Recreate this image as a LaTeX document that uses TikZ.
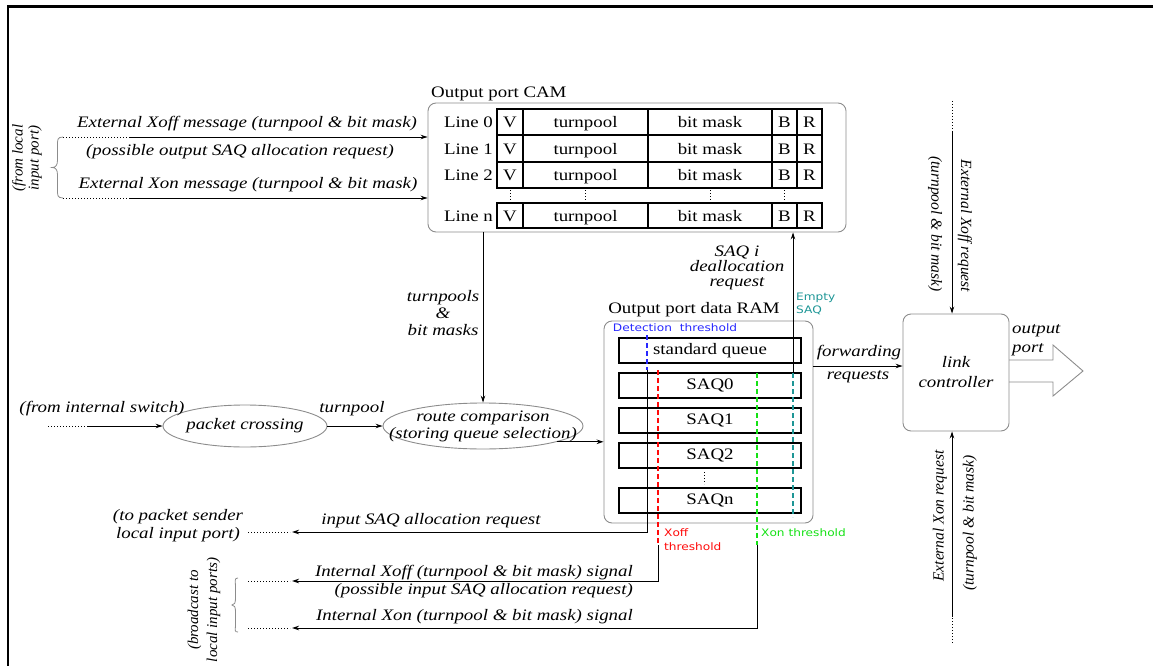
\documentclass[tikz,border=0pt]{standalone}
\usepackage{fontspec}
\setmainfont{Liberation Serif}[FakeStretch=1.18]
\newfontfamily\rotfont{Liberation Serif}
\newfontfamily\lblsans{DejaVu Sans}[FakeStretch=1.18]
\usetikzlibrary{arrows.meta,shapes.geometric}
\definecolor{boxgray}{RGB}{140,140,140}
\definecolor{detblue}{RGB}{40,40,255}
\definecolor{xoffred}{RGB}{255,10,10}
\definecolor{xongreen}{RGB}{20,225,20}
\definecolor{emptyteal}{RGB}{30,150,150}
\begin{document}
\begin{tikzpicture}[x=1pt,y=-1pt,
  arr/.style={-{Stealth[length=7pt,width=4.5pt]}, line width=0.9pt},
  dots/.style={line width=0.9pt, dash pattern=on 1.2pt off 1.8pt},
  graybox/.style={draw=boxgray, line width=0.9pt, rounded corners=8pt, inner sep=0pt},
  cell/.style={font=\fontsize{16}{18}\selectfont, inner sep=0pt},
  lbl/.style={font=\fontsize{16}{18}\selectfont\itshape, inner sep=0pt, align=center},
  rlbl/.style={font=\fontsize{15.5}{18}\selectfont\rotfont\itshape, inner sep=0pt, align=center},
  slbl/.style={font=\fontsize{10.3}{12.5}\selectfont\lblsans, inner sep=0pt, align=left},
  queue/.style={draw, line width=1.2pt, minimum width=182pt, minimum height=25pt, inner sep=0pt, font=\fontsize{16}{18}\selectfont},
  oval/.style={ellipse, draw=boxgray, line width=0.9pt, inner sep=0pt},
  thr/.style={line width=1.2pt, dash pattern=on 5pt off 3pt},
  tbl/.style={line width=1.1pt},
]
\useasboundingbox (0,0) rectangle (1153,666);
% frame
\draw[line width=2.3pt] (8,680) -- (8,6.5) -- (1165,6.5);

% ---------- CAM ----------
\node[graybox, draw, minimum width=418pt, minimum height=129pt] (cam) at (637,167.5) {};
\node[cell, anchor=base west] (camtitle) at (431,98) {Output port CAM};
\draw[tbl] (497,109) rectangle (822,188);
\draw[tbl] (497,135) -- (822,135) (497,162) -- (822,162);
\draw[tbl] (497,203) rectangle (822,228);
\foreach \xx in {523,648,772,797} \draw[tbl] (\xx,109) -- (\xx,188) (\xx,203) -- (\xx,228);
\foreach \rw/\yy in {0/122, 1/148.5, 2/175, n/215.5} {
  \node[cell, anchor=base east] (line\rw) at (493,\yy+5.5) {Line \rw};
  \node[cell, anchor=base] (v\rw) at (510,\yy+5.5) {V};
  \node[cell, anchor=base] (tp\rw) at (585.5,\yy+5.5) {turnpool};
  \node[cell, anchor=base] (bm\rw) at (710,\yy+5.5) {bit mask};
  \node[cell, anchor=base] (b\rw) at (784.5,\yy+5.5) {B};
  \node[cell, anchor=base] (rr\rw) at (809.5,\yy+5.5) {R};
}
\foreach \xx in {510,585.5,710,784.5} \draw[dots] (\xx,190) -- (\xx,201);

% ---------- left inputs to CAM ----------
\coordinate (xoffs) at (63,137); \coordinate (xoffm) at (130,137);
\coordinate (xons) at (63,198); \coordinate (xonm) at (130,198);
\draw[dots] (xoffs) -- (xoffm);
\draw[arr] (xoffm) -- (xoffm -| cam.west);
\draw[dots] (xons) -- (xonm);
\draw[arr] (xonm) -- (xonm -| cam.west);
\node[lbl] (extxoff) at (247,124) {External Xoff message (turnpool \& bit mask)};
\node[lbl] (possout) at (240,152) {(possible output SAQ allocation request)};
\node[lbl] (extxon) at (248,185) {External Xon message (turnpool \& bit mask)};
\draw[boxgray, line width=0.8pt] (xoffs) .. controls (57,137) and (57.5,140) .. (57.5,146) -- (57.5,160)
  .. controls (57.5,165) and (56,167.5) .. (52,167.5) .. controls (56,167.5) and (57.5,170) .. (57.5,175)
  -- (57.5,189) .. controls (57.5,195) and (57,198) .. (xons);
\node[rlbl, rotate=90, font=\fontsize{15}{16}\selectfont\rotfont\itshape] (fromlocal) at (27,158) {(from local\\input port)};

% ---------- packet path ----------
\node[oval, minimum width=164pt, minimum height=42pt] (pc) at (245,426) {};
\node[lbl] (pctxt) at (pc) {packet crossing};
\node[oval, minimum width=200pt, minimum height=46pt] (route) at (483,426) {};
\node[lbl, font=\fontsize{16}{17}\selectfont\itshape] (routetxt) at (route) {route comparison\\(storing queue selection)};
\coordinate (ins) at (48,426); \coordinate (inm) at (88,426);
\draw[dots] (ins) -- (inm);
\draw[arr] (inm) -- (pc.west);
\node[lbl] (fromsw) at (102,409) {(from internal switch)};
\draw[arr] (pc.east) -- (route.west);
\node[lbl] (tplbl) at (352,409) {turnpool};
\draw[arr] (route.north |- cam.south) -- (route.north);
\node[lbl, font=\fontsize{16}{17}\selectfont\itshape] (tpbm) at (443,313) {turnpools\\\&\\bit masks};

% ---------- RAM ----------
\node[graybox, draw, minimum width=209pt, minimum height=202pt] (ram) at (708.5,422) {};
\node[cell] (ramtitle) at (694,310) {Output port data RAM};
\draw[arr] (route.-12) -- (route.-12 -| ram.west);
\node[queue] (stdq) at (710,350.5) {standard queue};
\node[queue] (saq0) at (710,385.5) {SAQ0};
\node[queue] (saq1) at (710,420.5) {SAQ1};
\node[queue] (saq2) at (710,455.5) {SAQ2};
\node[queue] (saqn) at (710,500.5) {SAQn};
\draw[dots] (704,472) -- (704,484);

% thresholds
\node[slbl, text=detblue] (detlbl) at (675,328) {Detection\hspace{4pt} threshold};
\coordinate (dt1) at (647,335); \coordinate (dt2) at (647,370); \coordinate (dt3) at (647,532);
\coordinate (xo1) at (658,370); \coordinate (xo2) at (658,545); \coordinate (xo3) at (658,581);
\coordinate (xn1) at (757,373); \coordinate (xn2) at (757,545); \coordinate (xn3) at (757,628);
\coordinate (em1) at (793,373); \coordinate (em2) at (793,517);
\coordinate (isq) at (292,532); \coordinate (isqd) at (248,532);
\coordinate (ixo) at (292,581); \coordinate (ixod) at (248,581);
\coordinate (ixn) at (292,628); \coordinate (ixnd) at (248,628);
\draw[thr, detblue] (dt1) -- (dt2);
\draw[arr] (dt2) -- (dt3) -- (isq);
\draw[dots] (isqd) -- (290,532);
\draw[thr, xoffred] (xo1) -- (xo2);
\draw[arr] (xo2) -- (xo3) -- (ixo);
\draw[dots] (ixod) -- (290,581);
\draw[thr, xongreen] (xn1) -- (xn2);
\draw[arr] (xn2) -- (xn3) -- (ixn);
\draw[dots] (ixnd) -- (290,628);
\draw[thr, emptyteal] (em1) -- (em2);
\draw[arr] (em1) -- (em1 |- cam.south);
\node[slbl, text=xoffred, anchor=west, font=\fontsize{10.3}{14}\selectfont\lblsans] (xofflbl) at (664,540) {Xoff\\threshold};
\node[slbl, text=xongreen, anchor=west] (xonlbl) at (761,533) {Xon threshold};
\node[slbl, text=emptyteal, anchor=west] (emptylbl) at (796,304) {Empty\\SAQ};
\node[lbl, font=\fontsize{16}{15}\selectfont\itshape] (dealloc) at (737,268) {SAQ i\\deallocation\\request};

% bottom-left labels
\node[lbl] (topkt) at (178,526) {(to packet sender\\local input port)};
\node[lbl] (isqlbl) at (431,521) {input SAQ allocation request};
\node[lbl, anchor=east] (ixofflbl) at (633,573) {Internal Xoff (turnpool \& bit mask) signal};
\node[lbl, anchor=east] (possin) at (633,591) {(possible input SAQ allocation request)};
\node[lbl, anchor=east] (ixonlbl) at (633,617) {Internal Xon (turnpool \& bit mask) signal};
\draw[boxgray, line width=0.8pt] (238,578) .. controls (234,578) and (235.5,581) .. (235.5,587) -- (235.5,598)
  .. controls (235.5,603) and (234.5,605) .. (232,605) .. controls (234.5,605) and (235.5,607) .. (235.5,612)
  -- (235.5,625) .. controls (235.5,630) and (234,632) .. (238,632);
\node[rlbl, rotate=90, font=\fontsize{15}{19}\selectfont\rotfont\itshape] (bcast) at (204,610) {(broadcast to\\local input ports)};

% ---------- link controller ----------
\node[graybox, draw, minimum width=106pt, minimum height=117pt, font=\fontsize{16}{20}\selectfont\itshape, align=center] (lc) at (956,372.5) {link\\controller};
\coordinate (fw) at (813,366);
\draw[arr] (fw) -- (fw -| lc.west);
\node[lbl] (fwlbl) at (859,353) {forwarding};
\node[lbl] (rqlbl) at (858,377) {requests};
\coordinate (tx1) at (952,101); \coordinate (tx2) at (952,132);
\draw[dots] (tx1) -- (tx2);
\draw[arr] (tx2) -- (tx2 |- lc.north);
\coordinate (bx1) at (952,643); \coordinate (bx2) at (952,617);
\draw[dots] (bx1) -- (bx2);
\draw[arr] (bx2) -- (bx2 |- lc.south);
\node[rlbl, rotate=-90] (exoffreq) at (965,226) {External Xoff request};
\node[rlbl, rotate=-90] (tpbmtop) at (935,224) {(turnpool \& bit mask)};
\node[rlbl, rotate=90] (exonreq) at (940,516) {External Xon request};
\node[rlbl, rotate=90] (tpbmbot) at (970,523) {(turnpool \& bit mask)};
\draw[boxgray, line width=0.9pt] (1009,360) -- (1053,360) -- (1053,345) -- (1083,371) -- (1053,396) -- (1053,382) -- (1009,382);
\node[lbl, anchor=west, align=left, font=\fontsize{16}{19}\selectfont\itshape] (outport) at (1012,340) {output\\port};
\end{tikzpicture}
\end{document}
